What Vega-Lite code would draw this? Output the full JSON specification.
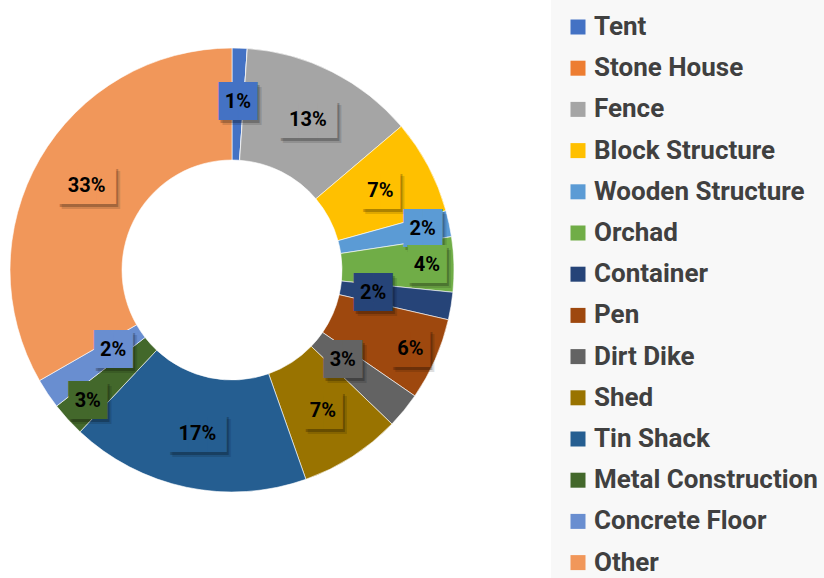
{
  "$schema": "https://vega.github.io/schema/vega-lite/v6.json",
  "width": 464,
  "height": 540,
  "padding": 0,
  "background": "white",
  "view": {"stroke": null},
  "title": {"text": "12", "orient": "bottom", "anchor": "middle", "dx": 149, "offset": 26, "fontSize": 22, "font": "Roboto", "fontWeight": "normal", "color": "#111111"},
  "data": {
    "values": [
      {"i": 1, "category": "Tent", "value": 1.1},
      {"i": 2, "category": "Stone House", "value": 0},
      {"i": 3, "category": "Fence", "value": 12.7},
      {"i": 4, "category": "Block Structure", "value": 6.9},
      {"i": 5, "category": "Wooden Structure", "value": 1.9},
      {"i": 6, "category": "Orchad", "value": 4.0},
      {"i": 7, "category": "Container", "value": 2.0},
      {"i": 8, "category": "Pen", "value": 6.0},
      {"i": 9, "category": "Dirt Dike", "value": 2.6},
      {"i": 10, "category": "Shed", "value": 7.4},
      {"i": 11, "category": "Tin Shack", "value": 17.4},
      {"i": 12, "category": "Metal Construction", "value": 2.5},
      {"i": 13, "category": "Concrete Floor", "value": 2.2},
      {"i": 14, "category": "Other", "value": 33.3}
    ]
  },
  "transform": [
    {"stack": "value", "sort": [{"field": "i", "order": "ascending"}], "as": ["v0", "v1"]},
    {"calculate": "(datum.v0 + datum.v1) / 2", "as": "mid"},
    {"calculate": "round(datum.value) + '%'", "as": "label"},
    {"calculate": "length(datum.label) > 2 ? '███' : '██'", "as": "box"},
    {"calculate": "indexof(['Container','Dirt Dike','Concrete Floor'], datum.category) >= 0 ? 143 : (indexof(['Wooden Structure','Orchad','Pen','Metal Construction'], datum.category) >= 0 ? 195 : 168)", "as": "ring"}
  ],
  "encoding": {
    "color": {
      "field": "category",
      "type": "nominal",
      "scale": {
        "domain": ["Tent", "Stone House", "Fence", "Block Structure", "Wooden Structure", "Orchad", "Container", "Pen", "Dirt Dike", "Shed", "Tin Shack", "Metal Construction", "Concrete Floor", "Other"],
        "range": ["#4472C4", "#ED7D31", "#A5A5A5", "#FFC000", "#5B9BD5", "#70AD47", "#264478", "#9E480E", "#636363", "#997300", "#255E91", "#43682B", "#698ED0", "#F1975A"]
      },
      "legend": {
        "title": null,
        "orient": "none",
        "legendX": 551,
        "legendY": 0,
        "padding": 14,
        "fillColor": "#f8f8f8",
        "symbolType": "square",
        "symbolSize": 225,
        "symbolStrokeWidth": 0,
        "symbolOpacity": 1,
        "labelFont": "Roboto",
        "labelFontSize": 26,
        "labelFontWeight": "bold",
        "labelColor": "#404040",
        "labelOffset": 3,
        "labelLimit": 300,
        "rowPadding": 15.2
      }
    }
  },
  "layer": [
    {
      "mark": {"type": "arc", "innerRadius": 110, "outerRadius": 222, "stroke": "#ffffff", "strokeWidth": 0.6},
      "encoding": {
        "theta": {"field": "v0", "type": "quantitative", "stack": null, "scale": {"domain": [0, 100]}},
        "theta2": {"field": "v1"}
      }
    },
    {
      "transform": [{"filter": "datum.value > 0"}],
      "mark": {"type": "text", "font": "DejaVu Sans Mono", "fontSize": 32, "dx": 4, "dy": 5, "baseline": "middle", "align": "center", "opacity": 0.12},
      "encoding": {
        "theta": {"field": "mid", "type": "quantitative", "stack": null, "scale": {"domain": [0, 100]}},
        "radius": {"field": "ring", "type": "quantitative", "scale": null},
        "text": {"field": "box"}, "color": {"value": "#000000"}
      }
    },
    {
      "transform": [{"filter": "datum.value > 0"}],
      "mark": {"type": "text", "font": "DejaVu Sans Mono", "fontSize": 32, "dx": 2, "dy": 3, "baseline": "middle", "align": "center", "opacity": 0.22},
      "encoding": {
        "theta": {"field": "mid", "type": "quantitative", "stack": null, "scale": {"domain": [0, 100]}},
        "radius": {"field": "ring", "type": "quantitative", "scale": null},
        "text": {"field": "box"}, "color": {"value": "#000000"}
      }
    },
    {
      "transform": [{"filter": "datum.value > 0"}],
      "mark": {"type": "text", "font": "DejaVu Sans Mono", "fontSize": 32, "baseline": "middle", "align": "center"},
      "encoding": {
        "theta": {"field": "mid", "type": "quantitative", "stack": null, "scale": {"domain": [0, 100]}},
        "radius": {"field": "ring", "type": "quantitative", "scale": null},
        "text": {"field": "box"}
      }
    },
    {
      "transform": [{"filter": "datum.value > 0"}],
      "mark": {"type": "text", "font": "Roboto", "fontSize": 20, "fontWeight": "bold", "baseline": "middle", "align": "center"},
      "encoding": {
        "theta": {"field": "mid", "type": "quantitative", "stack": null, "scale": {"domain": [0, 100]}},
        "radius": {"field": "ring", "type": "quantitative", "scale": null},
        "text": {"field": "label"}, "color": {"value": "#000000"}
      }
    }
  ]
}
